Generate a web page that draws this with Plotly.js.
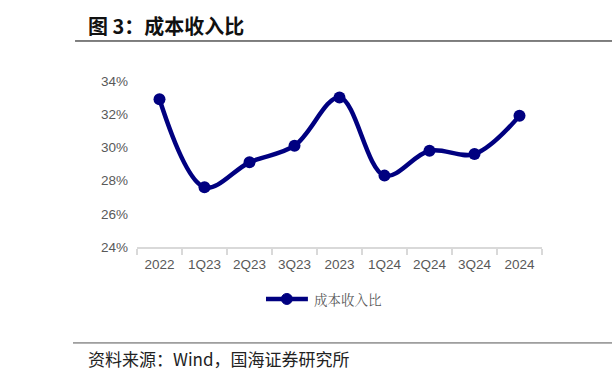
<!DOCTYPE html>
<html><head><meta charset="utf-8">
<script src="https://cdn.plot.ly/plotly-3.0.1.min.js"></script>
<style>html,body{margin:0;padding:0;background:#fff;}#chart{width:612px;height:382px;}</style>
</head><body><div id="chart"></div>
<script>
const categories = ["2022","1Q23","2Q23","3Q23","2023","1Q24","2Q24","3Q24","2024"];
const costIncomeRatio = [32.9, 27.6, 29.1, 30.1, 33.0, 28.3, 29.8, 29.6, 31.9];
const yTickVals = [24, 26, 28, 30, 32, 34];
const yTickText = ["24%","26%","28%","30%","32%","34%"];
const seriesName = "成本收入比";

const navy = "#000080";
const trace = {
  x: categories, y: costIncomeRatio, name: seriesName, type: "scatter", mode: "lines+markers",
  line: {color: navy, width: 4.5, shape: "spline", smoothing: 1},
  marker: {color: navy, size: 12},
  showlegend: false
};
// legend geometry (paper coords)
const lgY = -0.313, lgX0 = 0.3185, lgX1 = 0.422, lgXc = 0.370, rx = 5.5/405, ry = 5.5/166;
const layout = {
  width: 612, height: 382,
  margin: {l: 137, r: 70, t: 81, b: 135},
  paper_bgcolor: "#fff", plot_bgcolor: "#fff",
  font: {family: "'Liberation Sans', Arial, sans-serif", color: "#595959", size: 13.5},
  xaxis: {type: "category", range: [-0.5, 8.5], showline: true, linecolor: "#d9d9d9", linewidth: 1.5, ticks: "outside", tickson: "boundaries",
          ticklen: 6, tickcolor: "#d9d9d9", tickwidth: 1.5, showgrid: false, zeroline: false,
          tickfont: {size: 13.5, color: "#595959"}, ticklabelstandoff: 4},
  yaxis: {range: [24, 34], tickvals: yTickVals, ticktext: yTickText, showgrid: false, zeroline: false, showline: false,
          ticks: "", tickfont: {size: 13.5, color: "#595959"}, ticklabelstandoff: 8},
  showlegend: false,
  shapes: [
    {type: "line", xref: "paper", yref: "paper", x0: -0.153, x1: 1.2, y0: 1.241, y1: 1.241, line: {color: "#000", width: 1}},
    {type: "line", xref: "paper", yref: "paper", x0: -0.158, x1: 1.2, y0: -0.578, y1: -0.578, line: {color: "#555", width: 1}},
    {type: "line", xref: "paper", yref: "paper", x0: lgX0, x1: lgX1, y0: lgY, y1: lgY, line: {color: navy, width: 4.5}},
    {type: "circle", xref: "paper", yref: "paper", x0: lgXc - rx, x1: lgXc + rx, y0: lgY - ry, y1: lgY + ry,
     fillcolor: navy, line: {color: navy, width: 1}}
  ],
  annotations: [
    {xref: "paper", yref: "paper", x: -0.126, y: 1.335, xanchor: "left", yanchor: "middle", showarrow: false,
     text: "<b>图 3：成本收入比</b>", font: {family: "'Noto Sans CJK SC', sans-serif", size: 20, color: "#111"}},
    {xref: "paper", yref: "paper", x: -0.126, y: -0.672, xanchor: "left", yanchor: "middle", showarrow: false,
     text: "资料来源：Wind，国海证券研究所", font: {family: "'Noto Sans CJK SC', sans-serif", size: 17, color: "#222"}},
    {xref: "paper", yref: "paper", x: 0.432, y: lgY, xanchor: "left", yanchor: "middle", showarrow: false,
     text: seriesName, font: {family: "'Noto Serif CJK SC','Noto Sans CJK SC', serif", size: 13.5, color: "#595959"}}
  ]
};
Plotly.newPlot("chart", [trace], layout, {displayModeBar: false, staticPlot: true});
</script></body></html>
